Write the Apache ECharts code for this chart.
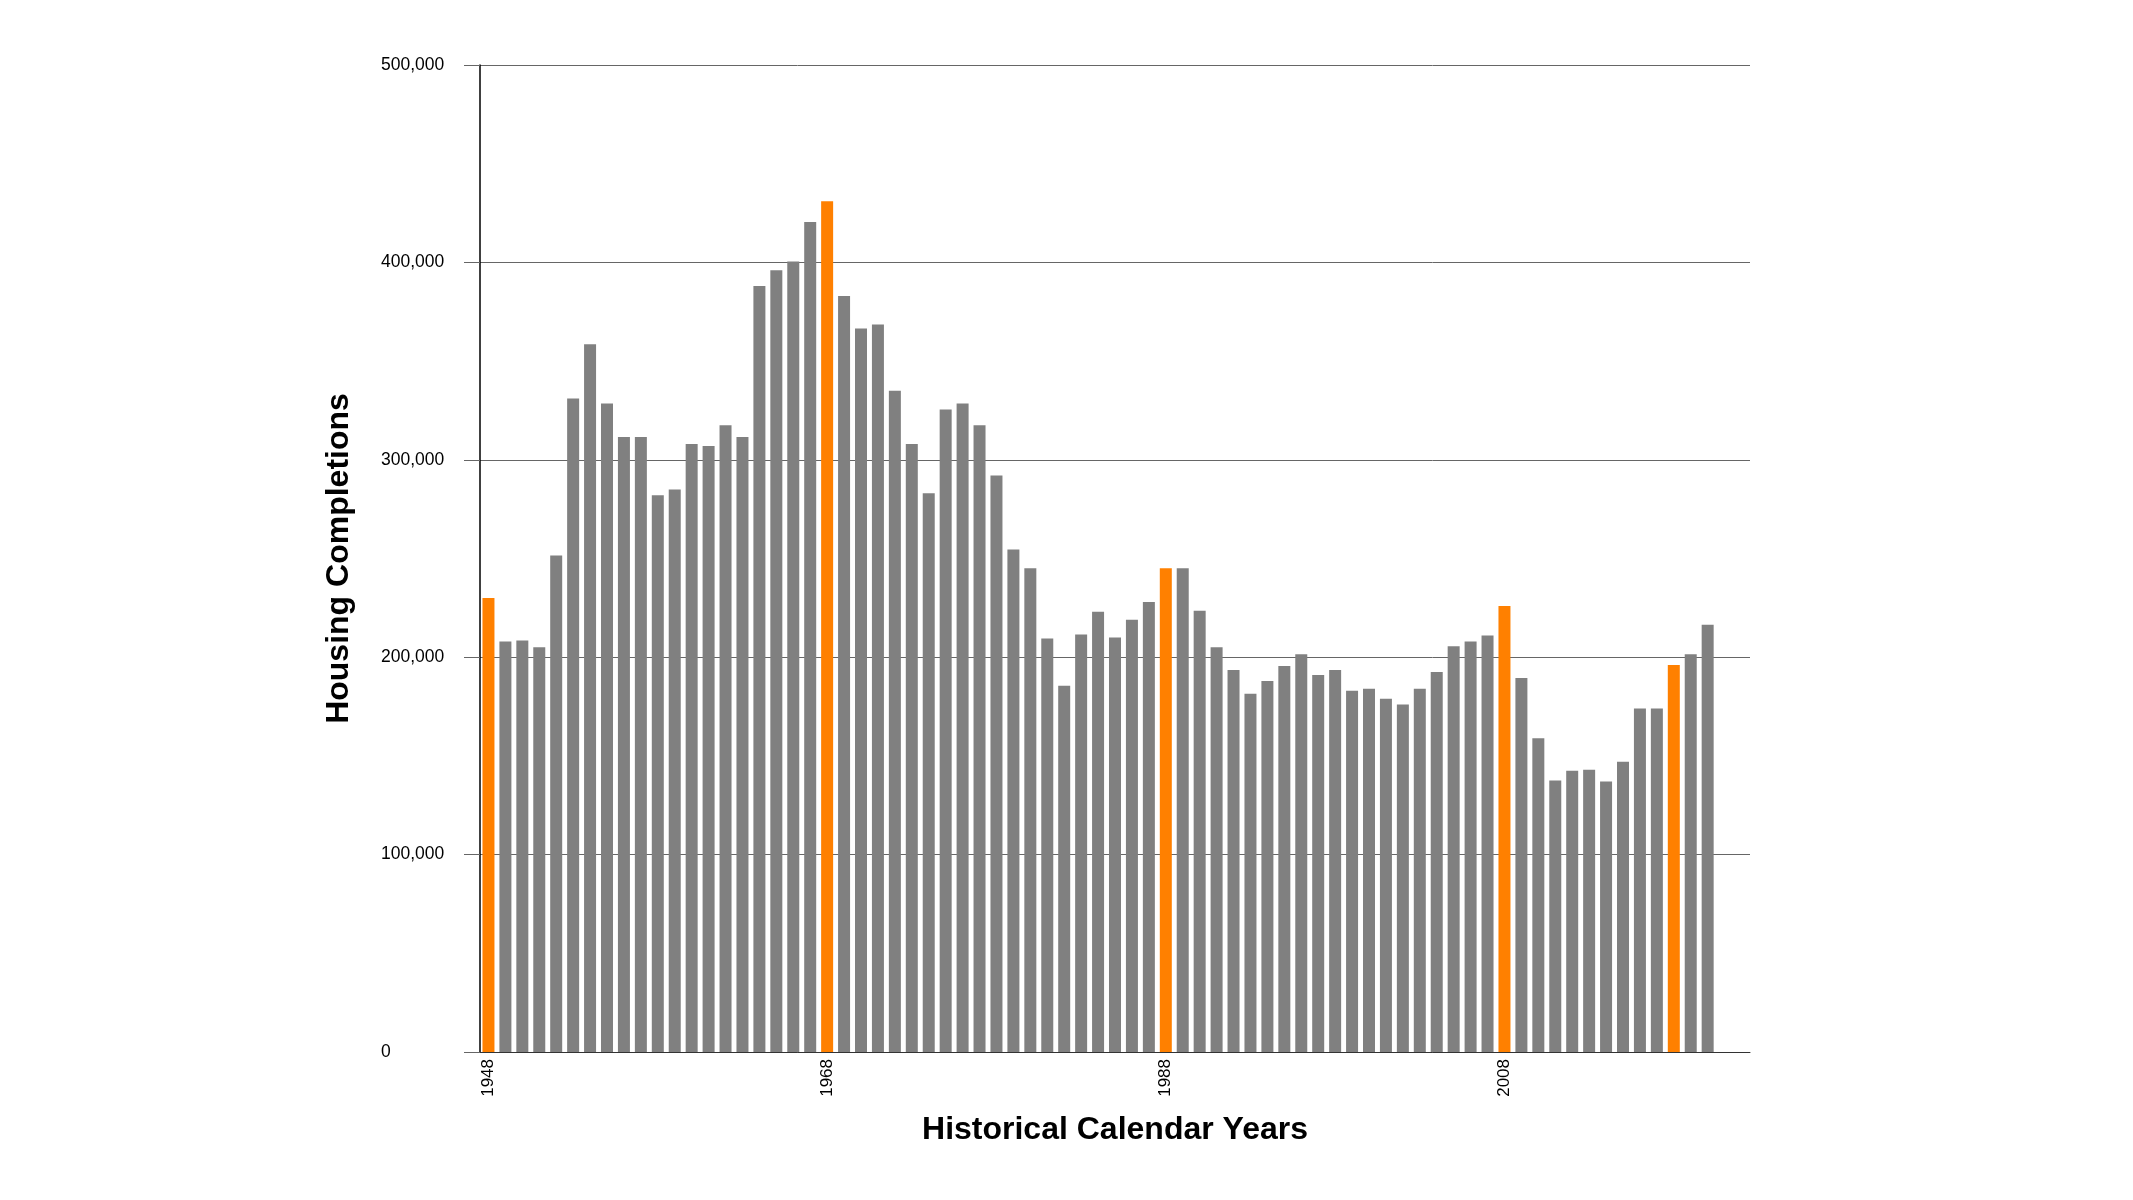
<!DOCTYPE html>
<html>
<head>
<meta charset="utf-8">
<title>Housing Completions</title>
<script src="https://cdn.jsdelivr.net/npm/echarts@6.0.0/dist/echarts.min.js"></script>
<style>
	html,body{margin:0;padding:0;background:#fff;}
	#main{width:2133px;height:1200px;}
</style>
</head>
<body>
<div id="main"></div>
<script>
// years shown on the axis, 1948 .. 2020
var years = [];
for (var y = 1948; y <= 2020; y++) years.push(String(y));

// completions per year
var completions = [
	230000, 208000, 208500, 205000, 251500, 331000, 358500, 328500, 311500, 311500,
	282000, 285000, 308000, 307000, 317500, 311500, 388000, 396000, 400500, 420500,
	431000, 383000, 366500, 368500, 335000, 308000, 283000, 325500, 328500, 317500,
	292000, 254500, 245000, 209500, 185500, 211500, 223000, 210000, 219000, 228000,
	245000, 245000, 223500, 205000, 193500, 181500, 188000, 195500, 201500, 191000,
	193500, 183000, 184000, 179000, 176000, 184000, 192500, 205500, 208000, 211000,
	226000, 189500, 159000, 137500, 142500, 143000, 137000, 147000, 174000, 174000,
	196000, 201500, 216500
];

// highlighted years (orange)
var highlightYears = ['1948', '1968', '1988', '2008', '2018'];

var yTicks = [0, 100000, 200000, 300000, 400000, 500000];

var grey = '#808080';
var orange = '#ff8000';
var font = '"Liberation Sans", Arial, Helvetica, sans-serif';

var barData = completions.map(function(v, i){
	return {
		value: v,
		itemStyle: {color: highlightYears.indexOf(years[i]) >= 0 ? orange : grey}
	};
});

var chart = echarts.init(document.getElementById('main'));
chart.setOption({
	animation: false,
	backgroundColor: '#fff',
	grid: {left: 480, right: 383, top: 65, bottom: 148},
	xAxis: {
		type: 'category',
		data: years,
		max: years.length + 1, // axis runs a little past 2020
		boundaryGap: true,
		name: 'Historical Calendar Years',
		nameLocation: 'middle',
		nameGap: 62,
		nameTextStyle: {fontFamily: font, fontSize: 32, fontWeight: 'bold', color: '#000'},
		axisLine: {show: true, lineStyle: {color: '#333', width: 1}},
		axisTick: {show: false},
		axisLabel: {
			interval: 19,
			rotate: 90,
			margin: 7,
			fontFamily: font,
			fontSize: 17,
			color: '#000'
		},
		splitLine: {show: false}
	},
	yAxis: {
		type: 'value',
		min: yTicks[0],
		max: yTicks[yTicks.length - 1],
		interval: 100000,
		name: 'Housing Completions',
		nameLocation: 'middle',
		nameRotate: 90,
		nameGap: 125,
		nameTextStyle: {fontFamily: font, fontSize: 32, fontWeight: 'bold', color: '#000'},
		axisLine: {show: true, lineStyle: {color: '#000', width: 1.5}},
		axisTick: {show: true, length: 16, lineStyle: {color: '#666', width: 1}},
		axisLabel: {
			align: 'left',
			margin: 99,
			fontFamily: font,
			fontSize: 17.5,
			color: '#000',
			formatter: function(v){ return v.toLocaleString('en-US'); }
		},
		splitLine: {show: true, lineStyle: {color: '#666', width: 1}}
	},
	series: [{
		type: 'bar',
		data: barData,
		barWidth: 12
	}]
});
</script>
</body>
</html>
